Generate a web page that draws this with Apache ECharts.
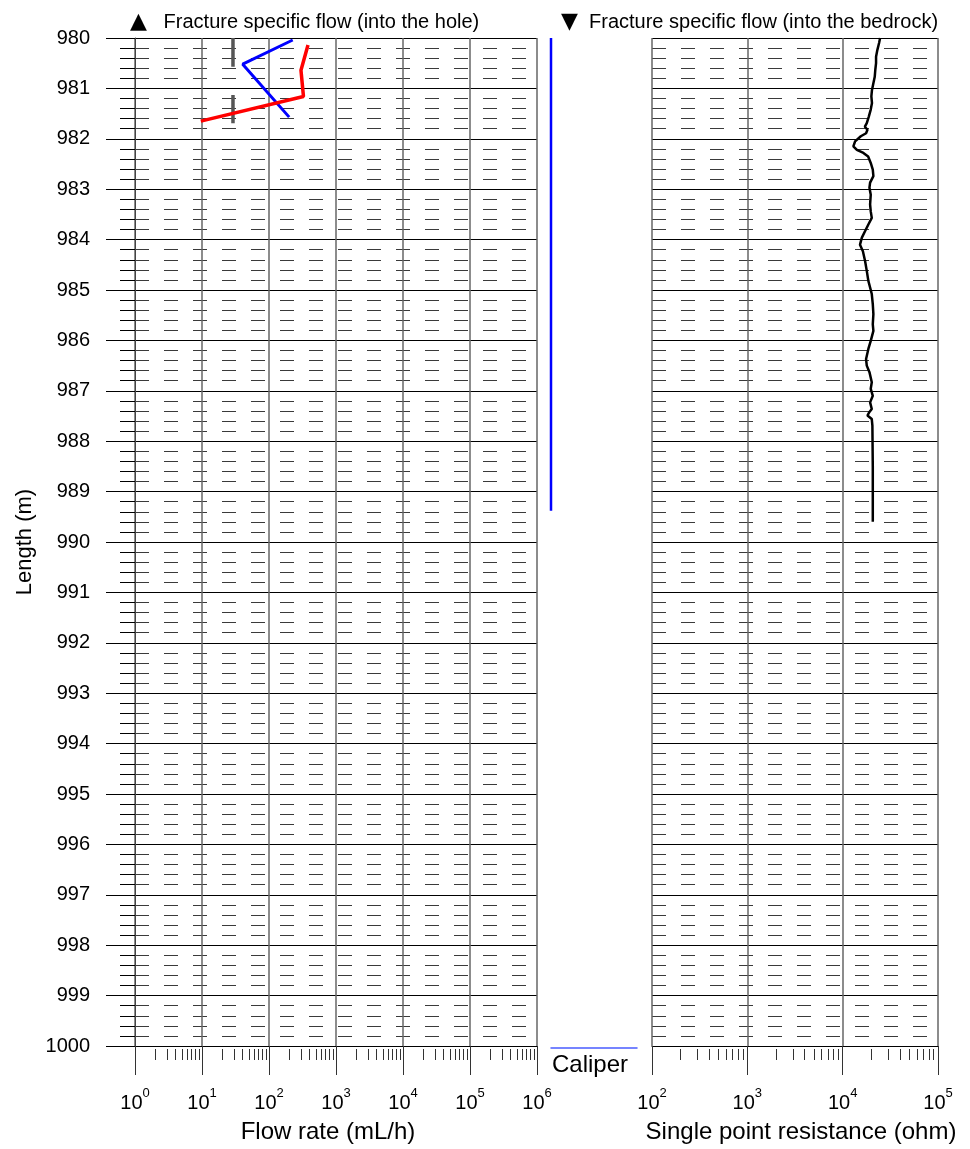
<!DOCTYPE html>
<html><head><meta charset="utf-8">
<script src="https://cdn.jsdelivr.net/npm/echarts@6/dist/echarts.min.js"></script>
<style>html,body{margin:0;padding:0;background:#fff}#c{width:970px;height:1149px}</style>
</head><body><div id="c"></div>
<script>
const FONT = "'Liberation Sans', Arial, Helvetica, sans-serif";

// ---- data ----
const depthRange = [980, 1000];
const flowRange = [1, 1e6];
const sprRange = [100, 1e5];
const caliperRange = [76, 96];

const blueDepth = [980.04, 980.52, 981.57];
const blueFlow  = [226, 40.5, 200];
const redDepth  = [980.14, 980.64, 981.16, 981.65];
const redFlow   = [382, 300, 327, 9.6];
const grayFlow  = 29;
const grayTop    = [980.0, 981.13];
const grayBottom = [980.57, 981.69];
const caliperDepth = [980.0, 989.35];
const caliperValue = [76, 76];

const sprDepth = [980.0, 980.1, 980.24, 980.37, 980.5, 980.63, 980.77, 980.9, 981.03, 981.16, 981.29, 981.42, 981.56, 981.69, 981.76, 981.82, 981.89, 981.95, 982.05, 982.15, 982.22, 982.28, 982.35, 982.48, 982.61, 982.74, 982.87, 982.97, 983.11, 983.3, 983.44, 983.57, 983.7, 983.83, 983.96, 984.1, 984.23, 984.43, 984.62, 984.82, 984.95, 985.08, 985.28, 985.48, 985.68, 985.81, 986.01, 986.17, 986.37, 986.5, 986.63, 986.83, 986.96, 987.1, 987.23, 987.36, 987.42, 987.49, 987.56, 987.69, 988.5, 989.6];
const sprOhm = [24700, 24100, 23100, 22400, 22400, 22000, 21700, 21000, 20300, 20000, 20300, 19700, 18800, 17900, 17100, 18200, 17600, 15500, 13500, 12950, 14100, 16500, 18500, 19700, 20700, 21000, 19400, 19100, 19700, 19400, 19700, 20200, 18600, 17200, 15900, 15200, 16300, 17200, 17900, 18600, 19400, 20200, 20700, 21000, 20700, 21000, 19700, 18600, 17600, 17900, 19100, 20200, 19700, 20700, 19400, 20200, 19100, 18200, 20200, 20500, 20700, 20700];

const titleLeft  = '{tri|▲}{t|   Fracture specific flow (into the hole)}';
const titleRight = '{tri|▼}{t|  Fracture specific flow (into the bedrock)}';
const flowName = 'Flow rate (mL/h)';
const sprName  = 'Single point resistance (ohm)';
const depthName = 'Length (m)';
const caliperName = 'Caliper';
const minorMultipliers = [2, 3, 4, 5, 6, 7, 8, 9];

// ---- helpers ----
function minorValues(range) {
  const out = [];
  for (let d = range[0]; d < range[1]; d *= 10) minorMultipliers.forEach(m => out.push(m * d));
  return out;
}
const pair = (xs, ys) => xs.map((x, i) => [x, ys[i]]);
const powLabel = v => '{b|10}{s|' + Math.round(Math.log10(v)) + '}';
const labelRich = {
  b: { fontSize: 20, fontFamily: FONT, color: '#000', verticalAlign: 'bottom', lineHeight: 26 },
  s: { fontSize: 13, fontFamily: FONT, color: '#000', verticalAlign: 'top', lineHeight: 13 }
};
const titleStyle = {
  fontSize: 20, fontWeight: 'normal', color: '#000', fontFamily: FONT,
  rich: {
    tri: { fontSize: 22, fontFamily: "'DejaVu Sans', sans-serif", color: '#000' },
    t: { fontSize: 20, fontFamily: FONT, color: '#000' }
  }
};

function mainLogAxis(grid, range, name, namePad) {
  return {
    type: 'log', gridIndex: grid, position: 'bottom', min: range[0], max: range[1], logBase: 10,
    axisLine: { show: true, lineStyle: { color: '#000', width: 1 } },
    axisTick: { show: true, length: 29, lineStyle: { color: '#333', width: 1 } },
    axisLabel: { margin: 41, formatter: powLabel, rich: labelRich, color: '#000' },
    splitLine: { show: true, lineStyle: { color: '#666', width: 1.5 } },
    name: name, nameLocation: 'middle', nameGap: 74,
    nameTextStyle: { fontSize: 24, fontFamily: FONT, color: '#000', padding: namePad }
  };
}
function minorLogAxis(grid, range) {
  return {
    type: 'log', gridIndex: grid, position: 'bottom', min: range[0], max: range[1], logBase: 10, offset: 3,
    axisLine: { show: false },
    axisTick: { show: true, length: 11, customValues: minorValues(range), lineStyle: { color: '#333', width: 1 } },
    axisLabel: { show: false }, splitLine: { show: false }
  };
}
function depthAxis(grid, withLabels) {
  return {
    type: 'value', gridIndex: grid, position: 'left', inverse: true, min: depthRange[0], max: depthRange[1], interval: 1,
    axisLine: { show: withLabels, lineStyle: { color: '#444', width: 1 } },
    axisTick: { show: withLabels, length: 29, lineStyle: { color: '#000' } },
    minorTick: { show: withLabels, splitNumber: 5, length: 15, lineStyle: { color: '#000' } },
    minorSplitLine: { show: true, lineStyle: { color: '#3a3a3a', width: 1.2, type: [14, 15] } },
    splitLine: { show: true, lineStyle: { color: '#000', width: 1 } },
    axisLabel: { show: withLabels, fontSize: 20, fontFamily: FONT, color: '#000', margin: 45, formatter: v => String(v) },
    name: withLabels ? depthName : '', nameLocation: 'middle', nameGap: 99,
    nameTextStyle: { fontSize: 22, fontFamily: FONT, color: '#000' }
  };
}

const grayIndex = grayTop.map((_, i) => i);

const option = {
  animation: false,
  backgroundColor: '#fff',
  textStyle: { fontFamily: FONT },
  title: [
    { text: titleLeft, left: 125, top: 6, textStyle: titleStyle },
    { text: titleRight, left: 556, top: 6, textStyle: titleStyle }
  ],
  grid: [
    { left: 135, right: 433, top: 38, bottom: 100 },
    { left: 551, right: 333, top: 38, bottom: 100 },
    { left: 652, right: 32, top: 38, bottom: 100 }
  ],
  xAxis: [
    mainLogAxis(0, flowRange, flowName, [0, 16, 0, 0]),
    minorLogAxis(0, flowRange),
    {
      type: 'value', gridIndex: 1, position: 'bottom', min: caliperRange[0], max: caliperRange[1], offset: -1,
      axisLine: { show: true, onZero: false, lineStyle: { color: '#4a5cff', width: 1.5 } },
      axisTick: { show: false }, axisLabel: { show: false }, splitLine: { show: false },
      name: caliperName, nameLocation: 'middle', nameGap: 5,
      nameTextStyle: { fontSize: 24, fontFamily: FONT, color: '#000', padding: [0, 8, 0, 0] }
    },
    mainLogAxis(2, sprRange, sprName, [0, 0, 0, 12]),
    minorLogAxis(2, sprRange)
  ],
  yAxis: [
    depthAxis(0, true),
    { type: 'value', gridIndex: 1, inverse: true, min: depthRange[0], max: depthRange[1], show: false },
    depthAxis(2, false)
  ],
  series: [
    ...grayIndex.map(i => ({
      type: 'line', xAxisIndex: 0, yAxisIndex: 0, symbol: 'none', silent: true,
      lineStyle: { color: '#555', width: 3.5 },
      data: [[grayFlow, grayTop[i]], [grayFlow, grayBottom[i]]]
    })),
    { type: 'line', xAxisIndex: 0, yAxisIndex: 0, symbol: 'none', lineStyle: { color: '#0000ff', width: 3 }, data: pair(blueFlow, blueDepth) },
    { type: 'line', xAxisIndex: 0, yAxisIndex: 0, symbol: 'none', lineStyle: { color: '#ff0000', width: 3.5 }, data: pair(redFlow, redDepth) },
    { type: 'line', xAxisIndex: 2, yAxisIndex: 1, symbol: 'none', clip: false, lineStyle: { color: '#0000ff', width: 2.5 }, data: pair(caliperValue, caliperDepth) },
    { type: 'line', xAxisIndex: 3, yAxisIndex: 2, symbol: 'none', lineStyle: { color: '#000', width: 2.5 }, data: pair(sprOhm, sprDepth) }
  ]
};

const chart = echarts.init(document.getElementById('c'), null, { renderer: 'canvas' });
chart.setOption(option);
</script>
</body></html>
